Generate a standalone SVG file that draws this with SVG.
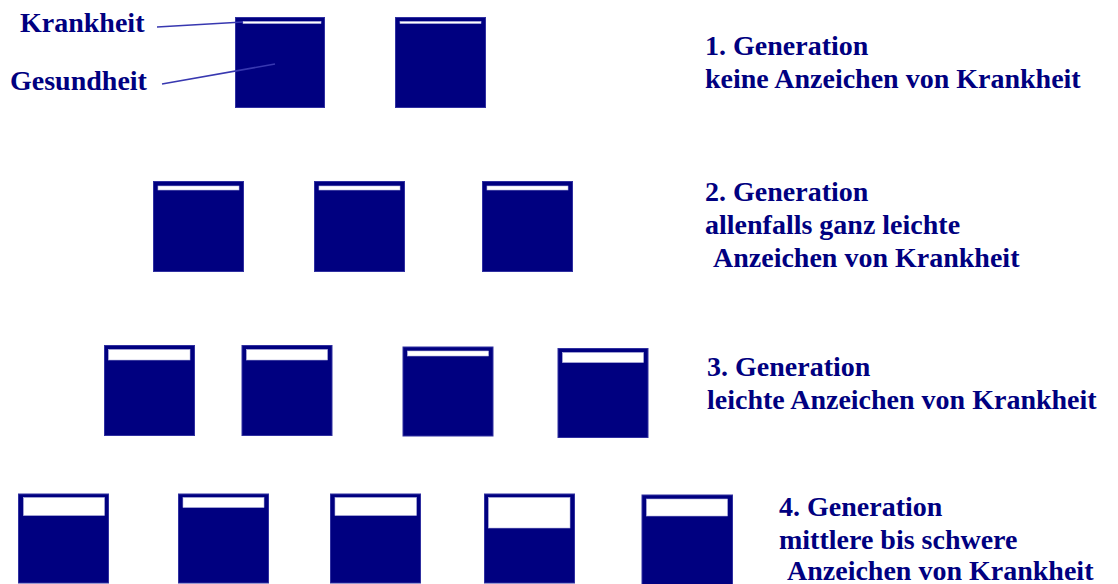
<svg xmlns="http://www.w3.org/2000/svg" width="1118" height="584" viewBox="0 0 1118 584">
<style>
.box{fill:#000080;stroke:#3030a0;stroke-width:1}
.bar{fill:#ffffff;stroke:#b8b8e0;stroke-width:0.6}
.t{font-family:'Liberation Serif','DejaVu Serif',serif;font-weight:700;font-size:28px;fill:#000080}
.ln{stroke:#3838b0;stroke-width:1.6;fill:none}
</style>
<rect width="1118" height="584" fill="#ffffff"/>
<g id="labels-left">
<text class="t" x="20" y="32">Krankheit</text>
<text class="t" x="10" y="90">Gesundheit</text>
</g>
<g id="gen1-box1"><rect class="box" x="235.5" y="17.5" width="89" height="90"/><rect class="bar" x="243" y="21.5" width="78" height="2"/></g>
<g id="gen1-box2"><rect class="box" x="395.5" y="17.5" width="90" height="90"/><rect class="bar" x="400" y="21.5" width="81" height="2"/></g>
<g id="gen2-box1"><rect class="box" x="153.5" y="181.5" width="90" height="90"/><rect class="bar" x="158" y="186" width="81" height="4"/></g>
<g id="gen2-box2"><rect class="box" x="314.5" y="181.5" width="90" height="90"/><rect class="bar" x="319" y="186" width="81" height="4"/></g>
<g id="gen2-box3"><rect class="box" x="482.5" y="181.5" width="90" height="90"/><rect class="bar" x="487" y="186" width="81" height="4"/></g>
<g id="gen3-box1"><rect class="box" x="104.5" y="345.5" width="90" height="90"/><rect class="bar" x="108.5" y="349.5" width="81.5" height="10.5"/></g>
<g id="gen3-box2"><rect class="box" x="242" y="345.5" width="90" height="90"/><rect class="bar" x="246.5" y="349.5" width="81" height="10.5"/></g>
<g id="gen3-box3"><rect class="box" x="403" y="347" width="90" height="89"/><rect class="bar" x="407.5" y="351" width="81" height="5"/></g>
<g id="gen3-box4"><rect class="box" x="558" y="348.5" width="90" height="89"/><rect class="bar" x="562.5" y="352.5" width="81" height="10"/></g>
<g id="gen4-box1"><rect class="box" x="18.5" y="494" width="90" height="89"/><rect class="bar" x="23.5" y="497.5" width="81" height="18"/></g>
<g id="gen4-box2"><rect class="box" x="178.5" y="494" width="90" height="89"/><rect class="bar" x="183" y="497.5" width="81" height="10"/></g>
<g id="gen4-box3"><rect class="box" x="330.5" y="494" width="90" height="89"/><rect class="bar" x="335" y="497.5" width="81.5" height="18"/></g>
<g id="gen4-box4"><rect class="box" x="484.5" y="494" width="90" height="89"/><rect class="bar" x="488.5" y="497.5" width="81.5" height="30.5"/></g>
<g id="gen4-box5"><rect class="box" x="642" y="495" width="90.5" height="90"/><rect class="bar" x="646.5" y="499" width="81" height="17"/></g>
<g id="connectors">
<line class="ln" x1="157" y1="27" x2="243" y2="22"/>
<line class="ln" x1="162" y1="84" x2="275" y2="64"/>
</g>
<g id="gen1-text">
<text class="t" x="705" y="55">1. Generation</text>
<text class="t" x="705" y="88">keine Anzeichen von Krankheit</text>
</g>
<g id="gen2-text">
<text class="t" x="705" y="201">2. Generation</text>
<text class="t" x="705" y="234">allenfalls ganz leichte</text>
<text class="t" x="713" y="267">Anzeichen von Krankheit</text>
</g>
<g id="gen3-text">
<text class="t" x="707" y="376">3. Generation</text>
<text class="t" x="707" y="409">leichte Anzeichen von Krankheit</text>
</g>
<g id="gen4-text">
<text class="t" x="779" y="516">4. Generation</text>
<text class="t" x="779" y="549">mittlere bis schwere</text>
<text class="t" x="787" y="580">Anzeichen von Krankheit</text>
</g>
</svg>
